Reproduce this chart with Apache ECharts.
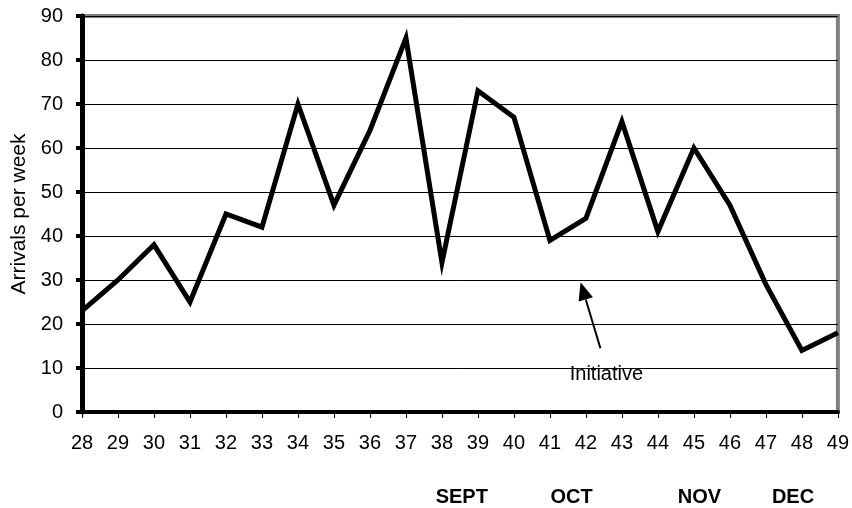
<!DOCTYPE html>
<html>
<head>
<meta charset="utf-8">
<script src="https://cdn.jsdelivr.net/npm/echarts@6/dist/echarts.min.js"></script>
<style>
  html, body { margin: 0; padding: 0; background: #fff; }
  #chart { width: 852px; height: 508px; }
</style>
</head>
<body>
<div id="chart"></div>
<script>
// Weekly arrivals, weeks 28-49
const weeks = ['28','29','30','31','32','33','34','35','36','37','38','39','40','41','42','43','44','45','46','47','48','49'];
const arrivals = [23, 30, 38, 25, 45, 42, 70, 47, 64, 85, 34, 73, 67, 39, 44, 66, 41, 60, 47, 29, 14, 18];

// Month markers placed along the week axis
const monthLabels = ['SEPT', 'OCT', 'NOV', 'DEC'];
const monthWeeks = [38.55, 41.6, 45.15, 47.75];

// Annotation: arrow from label toward the line, in (week, value) terms
const noteText = 'Initiative';
const arrowFrom = [42.4, 14.5];
const arrowTo = [41.85, 29.5];

const FONT = '"Liberation Sans", Arial, sans-serif';
const G = { left: 82, right: 14, top: 16, bottom: 96 };
const W = 852, H = 508;
const yMax = 90;

function px(week, val) {
  const w = W - G.left - G.right;
  const h = H - G.top - G.bottom;
  return [
    G.left + (week - Number(weeks[0])) / (weeks.length - 1) * w,
    G.top + (1 - val / yMax) * h
  ];
}

const chart = echarts.init(document.getElementById('chart'), null, { renderer: 'canvas' });

const p0 = px(arrowFrom[0], arrowFrom[1]);
const p1 = px(arrowTo[0], arrowTo[1]);
const ang = Math.atan2(p1[1] - p0[1], p1[0] - p0[0]);
const headLen = 18, headHalf = 7.5;
const base = [p1[0] - headLen * Math.cos(ang), p1[1] - headLen * Math.sin(ang)];
const perp = [-Math.sin(ang), Math.cos(ang)];

const graphics = [
  {
    type: 'line',
    shape: { x1: p0[0], y1: p0[1], x2: base[0], y2: base[1] },
    style: { stroke: '#000', lineWidth: 2 },
    z: 10
  },
  {
    type: 'polygon',
    shape: { points: [
      p1,
      [base[0] + perp[0] * headHalf, base[1] + perp[1] * headHalf],
      [base[0] - perp[0] * headHalf, base[1] - perp[1] * headHalf]
    ] },
    style: { fill: '#000' },
    z: 10
  },
  {
    type: 'text',
    x: p0[0] + 6, y: p0[1] + 26,
    style: { text: noteText, font: '20px ' + FONT, fill: '#000', textAlign: 'center', textVerticalAlign: 'middle' },
    z: 10
  }
];
monthLabels.forEach((m, i) => {
  const p = px(monthWeeks[i], 0);
  graphics.push({
    type: 'text',
    x: p[0], y: 497,
    style: { text: m, font: 'bold 20px ' + FONT, fill: '#000', textAlign: 'center', textVerticalAlign: 'middle' }
  });
});

chart.setOption({
  animation: false,
  backgroundColor: '#fff',
  grid: {
    left: G.left, right: G.right, top: G.top, bottom: G.bottom,
    show: true, borderColor: '#808080', borderWidth: 4, backgroundColor: 'transparent'
  },
  xAxis: {
    type: 'category',
    data: weeks,
    boundaryGap: false,
    axisLine: { show: true, lineStyle: { color: '#000', width: 4 } },
    axisTick: { show: true, length: 6, lineStyle: { color: '#000', width: 1 } },
    axisLabel: { color: '#000', fontSize: 20, fontFamily: FONT, margin: 21, interval: 0 },
    splitLine: { show: false }
  },
  yAxis: {
    type: 'value',
    min: 0, max: yMax, interval: 10,
    name: 'Arrivals per week',
    nameLocation: 'middle',
    nameGap: 50,
    nameTextStyle: { color: '#000', fontSize: 21, fontFamily: FONT },
    axisLine: { show: true, lineStyle: { color: '#000', width: 5 } },
    axisTick: { show: true, length: 6, lineStyle: { color: '#000', width: 4 } },
    axisLabel: { color: '#000', fontSize: 20, fontFamily: FONT, margin: 19 },
    splitLine: { show: true, lineStyle: { color: '#000', width: 1 } }
  },
  series: [{
    type: 'line',
    data: arrivals,
    showSymbol: false,
    symbol: 'none',
    lineStyle: { color: '#000', width: 5, join: 'miter' },
    z: 5
  }],
  graphic: graphics
});
</script>
</body>
</html>
